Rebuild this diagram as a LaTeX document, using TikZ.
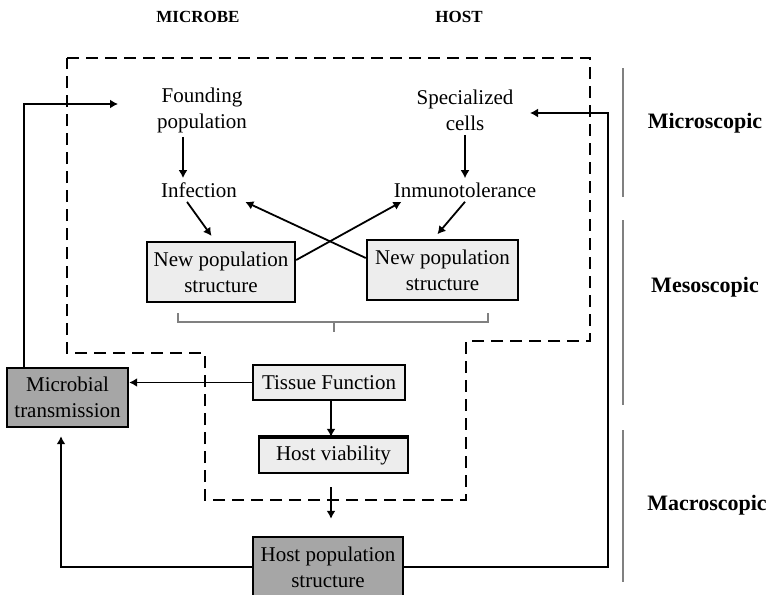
\documentclass[tikz,border=0pt]{standalone}
\usepackage{fontspec}
\setmainfont{Liberation Serif}
\usetikzlibrary{arrows.meta}
\begin{document}
\begin{tikzpicture}
  [x=0.5pt,y=-0.5pt,>={Latex[length=4pt,width=4.5pt]},
   every node/.style={font=\fontsize{10.5}{13}\selectfont,align=center,inner sep=2pt},
   box/.style={draw,line width=1.2pt,fill=black!7},
   darkbox/.style={draw,line width=1.2pt,fill=black!35},
   scalelbl/.style={font=\fontsize{11}{13}\selectfont\bfseries},
   head/.style={font=\fontsize{8.5}{10}\selectfont\bfseries},
   arr/.style={->,line width=0.9pt}]
  \useasboundingbox (0,0) rectangle (769,594);

  % dashed organism
  \draw[line width=1pt,dash pattern=on 6pt off 3.5pt]
    (67,58) -- (590,58) -- (590,341) -- (466,341) -- (466,500)
    -- (205,500) -- (205,353) -- (67,353) -- cycle;

  \node[head] (mic) at (198,17) {MICROBE};
  \node[head] (hst) at (459,17) {HOST};

  \node (found) at (202,110) {Founding\\population};
  \node (spec) at (465,110) {Specialized\\cells};
  \node (inf) at (199,190) {Infection};
  \node (tol) at (465,190) {Inmunotolerance};
  \node[box,minimum width=74pt,minimum height=30pt] (newm) at (221,272) {New population\\structure};
  \node[box,minimum width=75.5pt,minimum height=30pt] (newh) at (442.5,270) {New population\\structure};
  \node[box,minimum width=76pt,minimum height=17.5pt] (tissue) at (329,382.5) {Tissue Function};
  \node[box,minimum width=74.5pt,minimum height=17.5pt] (viab) at (333.5,455.5) {Host viability};
  \node[darkbox,minimum width=60.5pt,minimum height=29.5pt] (micro) at (67.5,397.5) {Microbial\\transmission};
  \node[darkbox,minimum width=75pt,minimum height=30pt] (hpop) at (328,567) {Host population\\structure};
  \draw[line width=2pt] (viab.north west) -- (viab.north east);

  \coordinate (fin) at (118,104);
  \coordinate (sin) at (530,113);

  % scale bars
  \draw[black!50,line width=0.7pt] (623,68) -- (623,197) (623,220) -- (623,405) (623,430) -- (623,582);
  \node[scalelbl] (lmic) at (705,123) {Microscopic};
  \node[scalelbl] (lmes) at (705,287) {Mesoscopic};
  \node[scalelbl] (lmac) at (707,505) {Macroscopic};

  % bracket
  \draw[black!50,line width=0.9pt] (178,313) -- (178,322) -- (488,322) -- (488,313) (334,322) -- (334,332);

  \draw[arr] ([xshift=-9.5pt]found.south) -- ([xshift=-9.5pt]found.south |- inf.north);
  \draw[arr] (spec.south) -- (tol.north);
  \draw[arr,shorten >=3pt] ([xshift=-6pt]inf.south) -- ([xshift=-3pt]newm.north);
  \draw[arr,shorten >=3pt] (tol.south) -- ([xshift=-4.5pt]newh.north);
  \draw[arr] ([yshift=6pt]newm.east) -- ([xshift=6pt]tol.south west);
  \draw[arr] ([yshift=6pt]newh.west) -- ([xshift=2pt]inf.south east);
  \draw[arr] (tissue.west) -- (tissue.west -| micro.east);
  \draw[arr] ([xshift=1pt]tissue.south) -- ([xshift=1pt]tissue.south |- viab.north);
  \draw[arr,shorten <=6.5pt,shorten >=8.5pt] ([xshift=-1.25pt]viab.south) -- ([xshift=-1.25pt]viab.south |- hpop.north);
  \draw[arr] ([xshift=-21.75pt]micro.north) |- (fin);
  \draw[arr] (hpop.east) -- ++(204,0) |- (sin);
  \draw[arr,shorten >=4pt] (hpop.west) -| ([xshift=-3.25pt]micro.south);
\end{tikzpicture}
\end{document}
